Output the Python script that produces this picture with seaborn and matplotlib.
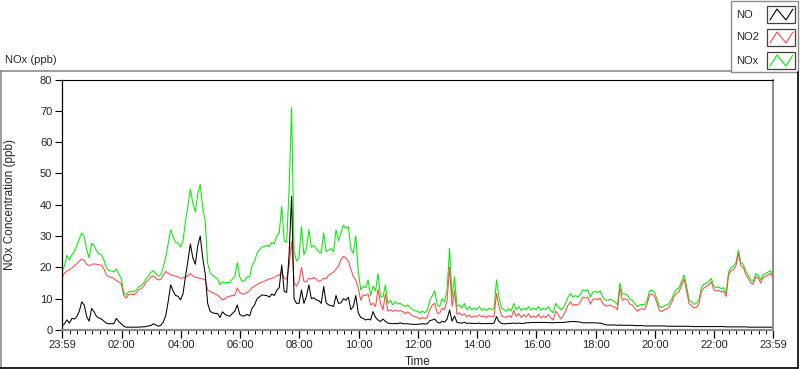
import numpy as np
import pandas as pd
import matplotlib
matplotlib.use("Agg")
import matplotlib.pyplot as plt
import seaborn as sns
from matplotlib.patches import Rectangle

# one reading every 5 minutes, counted from 23:59
minutes = list(range(0, 1441, 5))

# NOx (ppb), one row per hour of the day
nox = (
    [18.7, 20.5, 23.8, 22.4, 24, 25, 27, 29, 31, 29.9, 25.6, 23] +
    [27.7, 27, 25.3, 24.3, 24, 22.3, 19.8, 19, 18.8, 18.5, 19.5, 18] +
    [16.5, 12, 11.1, 12.2, 12.4, 12.2, 12.7, 13.7, 14.2, 14.9, 16.3, 17.3] +
    [18.4, 19, 18, 17.2, 17.5, 20, 23, 27.5, 32, 29.9, 28, 27.8] +
    [26.5, 28.5, 34.5, 39.5, 45, 40.5, 37.8, 43.5, 46.5, 39, 35, 21.3] +
    [18.3, 17.5, 16.8, 16.5, 14.5, 15.4, 15, 15.2, 15.2, 16.3, 17, 21.5] +
    [17, 15.5, 15.8, 17, 17, 20.5, 22, 24.5, 25.6, 26.5, 26.7, 27] +
    [26.7, 28, 27.5, 30, 31, 39.5, 28.5, 28, 45, 71, 25, 22] +
    [23, 33, 24, 26, 32, 26.5, 27, 26, 25, 24.5, 31, 25] +
    [25.5, 26, 25, 32, 28.5, 31, 33.5, 32.5, 33, 26, 24.5, 30] +
    [19, 12.8, 14, 13.5, 16, 11, 14, 12.5, 18, 10.7, 10.5, 14.4] +
    [8.5, 9.5, 8, 9, 8.3, 8.5, 8, 7.5, 8, 7.2, 6.5, 6.2] +
    [6, 5.5, 6, 5.5, 6.3, 9.5, 11, 12.5, 8, 7.5, 10, 9] +
    [13, 26, 10.5, 17, 7.5, 8, 7, 8.5, 6.5, 7.5, 6.4, 7] +
    [6.5, 7.5, 6.3, 6.8, 6.2, 7, 6.5, 6.8, 16, 10.5, 7, 6.5] +
    [6, 6.8, 6.2, 8.5, 6.4, 7.5, 6.2, 7, 6.5, 7.5, 6.4, 7] +
    [6.5, 7.5, 6.3, 7, 6.5, 7.5, 6.2, 5.5, 8.5, 7.5, 6.5, 7] +
    [8.5, 10.5, 11.7, 10.5, 11, 10.5, 11.5, 12.8, 12.5, 12.8, 10.5, 12] +
    [12.3, 12, 12.5, 10.5, 9.6, 9.5, 9.8, 9.5, 9, 8, 15, 11.5] +
    [11.5, 11.2, 9.8, 9.5, 8.5, 7.5, 8, 8.2, 8, 9.5, 12.5, 12.8] +
    [12, 10, 7.5, 7.2, 7.8, 8, 8.5, 10, 12, 13, 13.5, 15.5] +
    [17.5, 14, 9.6, 9, 8.2, 8.5, 9.5, 13.5, 14.5, 15, 15.5, 16.5] +
    [14, 13.5, 13.8, 13.2, 13.5, 11.7, 18.5, 20, 20.3, 21.5, 25.5, 21.5] +
    [21, 18.7, 17.5, 16, 15.5, 18, 17.5, 16, 17.6, 18, 18.5, 19] +
    [17.5]
)

# NO2 (ppb)
no2 = (
    [16.5, 18.2, 18.8, 19.3, 19.8, 20.5, 21.2, 22, 22.7, 22.2, 21, 20.5] +
    [21, 21.1, 21, 20.8, 20.7, 19.5, 17.5, 17, 16.8, 16.5, 15.8, 15.3] +
    [14.9, 11, 10.2, 11.3, 11.5, 11.3, 11.8, 12.8, 13.2, 13.9, 15.2, 16] +
    [17, 17.3, 16.5, 16, 16.2, 17.3, 18.7, 18.2, 17.6, 17.4, 17.2, 17] +
    [16.5, 16.7, 17, 17.3, 18, 17.3, 16.8, 16.7, 16.5, 16.3, 16, 12.8] +
    [12.3, 12, 11.5, 11.2, 10.5, 9.6, 10, 10.6, 10.8, 11, 11, 13.5] +
    [12, 11.5, 11.5, 12, 12.5, 13.5, 14, 14.5, 15, 15.3, 15.6, 16] +
    [16.3, 16.5, 16.8, 17.3, 17.5, 18.5, 16.5, 16.2, 20.5, 28.3, 15, 14] +
    [15.5, 20, 15.5, 15.3, 16.5, 16.3, 16.8, 16.2, 15.5, 15.8, 16.5, 16.3] +
    [17.5, 18, 18.5, 19.5, 20.3, 22.5, 23.5, 23, 22, 19.5, 17, 16] +
    [13.5, 9.5, 11.2, 11, 11.5, 8, 8.5, 7.5, 13, 8.5, 6.4, 11.5] +
    [6, 6.5, 5.9, 6.4, 6, 6.2, 5.9, 5.2, 5.8, 5.3, 4.5, 4.3] +
    [4, 3.5, 4, 3.6, 4.2, 6.5, 8, 8.5, 5.3, 5.5, 7, 6.5] +
    [9.5, 20, 7.5, 12.5, 5, 5.5, 4.7, 5.2, 4.3, 4.8, 4, 4.5] +
    [4.3, 4.8, 4.2, 4.5, 4, 4.6, 4.3, 4.3, 11.7, 7.5, 4.7, 4.2] +
    [4, 4.6, 4, 6.3, 4.3, 5.3, 4, 4.9, 4.2, 5.2, 4, 4.5] +
    [4, 5, 3.8, 4.5, 4, 5, 3.9, 3.2, 6, 5, 3.5, 4.5] +
    [6, 8, 9, 7.8, 8.2, 8, 9, 10.5, 10.2, 10.5, 8.2, 9.7] +
    [10, 9.7, 10.2, 8.5, 7.8, 7.7, 8, 7.5, 7.3, 6.5, 13.3, 9.5] +
    [10, 9.7, 8.3, 8, 7, 6, 6.6, 6.8, 6.6, 8.2, 11.2, 11.5] +
    [10.7, 8.7, 6.2, 5.9, 6.5, 6.7, 7.3, 8.8, 10.8, 11.8, 12.3, 14.3] +
    [16.3, 12.5, 8.4, 7.8, 7, 7.3, 8.3, 12.3, 13.4, 13.9, 14.4, 15.4] +
    [12.9, 12.4, 12.7, 12.1, 12.4, 10.7, 17.5, 19, 19.3, 20.5, 24.4, 20.5] +
    [20, 17.7, 16.5, 15, 14.6, 17, 16.6, 15, 16.7, 17.1, 17.6, 18.1] +
    [16.6]
)

# NO (ppb)
no = (
    [1.3, 2, 3.2, 2.2, 3.7, 3.5, 4.3, 6, 9, 8, 4.3, 2.8] +
    [6.9, 5.8, 4.3, 3.8, 3.5, 2.8, 2.2, 2, 2, 2, 3.7, 2.7] +
    [2, 1.2, 0.9, 0.9, 0.9, 0.9, 0.9, 0.9, 1.0, 1.0, 1.1, 1.3] +
    [1.4, 2, 1.6, 1.2, 1.5, 2.5, 4.5, 9, 14.4, 12.5, 11, 10.8] +
    [9.6, 11.5, 17, 22, 27.5, 23, 21, 27, 30, 23, 18, 8.5] +
    [6, 5.5, 5.3, 5.3, 4, 5.8, 5, 4.6, 4.4, 5.3, 6, 8] +
    [5, 4.5, 4.5, 5, 4.5, 7, 8, 10, 10.6, 11.2, 11.1, 11] +
    [10.5, 11.5, 11, 12.7, 13.5, 20.8, 12.3, 12, 24.5, 42.7, 10, 8.5] +
    [8.5, 12.8, 8.5, 10.7, 14.4, 10, 10.3, 9.6, 9.4, 8.5, 13.9, 8.7] +
    [8, 7.8, 7.5, 11, 8.5, 8.7, 10, 9.5, 10.5, 6.5, 7.5, 11] +
    [5.5, 4, 3.7, 3.2, 3.5, 3.2, 5.9, 4, 3.2, 2.7, 3.5, 2.8] +
    [2.2, 2.1, 2, 2.1, 2, 2.3, 2, 2, 2, 1.9, 1.8, 1.8] +
    [1.8, 1.9, 2, 1.9, 2, 3, 3.2, 3.5, 2.5, 2.2, 2.8, 2.5] +
    [3.5, 6.4, 2.8, 4.5, 2.4, 2.3, 2.2, 2.5, 2.1, 2.2, 2.1, 2.1] +
    [2.1, 2.2, 2, 2.1, 2, 2.1, 2, 2.2, 4.3, 2.7, 2.1, 2] +
    [2, 2.1, 2.1, 2.2, 2.1, 2.2, 2.1, 2.1, 2.3, 2.3, 2.4, 2.4] +
    [2.4, 2.4, 2.4, 2.4, 2.4, 2.4, 2.3, 2.3, 2.4, 2.4, 2.4, 2.4] +
    [2.5, 2.6, 2.7, 2.7, 2.7, 2.6, 2.5, 2.3, 2.3, 2.3, 2.3, 2.3] +
    [2.3, 2.2, 2.2, 2, 1.7, 1.6, 1.6, 1.6, 1.6, 1.5, 1.6, 1.5] +
    [1.5, 1.5, 1.5, 1.5, 1.4, 1.4, 1.4, 1.4, 1.3, 1.3, 1.3, 1.3] +
    [1.3, 1.3, 1.3, 1.3, 1.3, 1.2, 1.2, 1.2, 1.2, 1.2, 1.2, 1.2] +
    [1.2, 1.2, 1.2, 1.1, 1.1, 1.1, 1.1, 1.1, 1.1, 1.1, 1.1, 1.1] +
    [1.1, 1.1, 1.1, 1.1, 1.1, 1.0, 1.0, 1.0, 1.0, 1.0, 1.0, 1.0] +
    [1.0, 1.0, 0.9, 0.9, 0.9, 0.9, 0.9, 0.9, 0.9, 0.9, 0.9, 0.9] +
    [0.9]
)

series_names = ["NO", "NO2", "NOx"]
series_colors = {"NO": "#000000", "NO2": "#ff4848", "NOx": "#00ee00"}

tick_labels = ["23:59", "02:00", "04:00", "06:00", "08:00", "10:00", "12:00",
               "14:00", "16:00", "18:00", "20:00", "22:00", "23:59"]

assert len(nox) == len(no2) == len(no) == len(minutes)

df = pd.DataFrame({
    "minute": minutes * 3,
    "ppb": nox + no2 + no,
    "series": ["NOx"] * len(nox) + ["NO2"] * len(no2) + ["NO"] * len(no),
})

sns.set_style("white")
plt.rcParams["font.family"] = ["Liberation Sans", "DejaVu Sans"]

W, H = 800, 369
fig = plt.figure(figsize=(W / 100, H / 100), dpi=100)
fig.patch.set_facecolor("white")

# main plot, placed in pixels
x0, x1, y0, y1 = 62, 773, 79.5, 330
ax = fig.add_axes([x0 / W, 1 - y1 / H, (x1 - x0) / W, (y1 - y0) / H])
sns.lineplot(data=df, x="minute", y="ppb", hue="series",
             hue_order=["NOx", "NO2", "NO"], palette=series_colors,
             estimator=None, linewidth=0.75, legend=False, ax=ax)

ax.set_xlim(0, 1440)
ax.set_ylim(0, 80)
ax.set_yticks(np.arange(0, 81, 10))

# major ticks at the labelled clock times, minor every 15 min
major = [0] + [int(s[:2]) * 60 + 1 for s in tick_labels[1:-1]] + [1440]
ax.set_xticks(major)
ax.set_xticklabels(tick_labels)
ax.set_xticks(np.arange(1, 1441, 15), minor=True)

ax.tick_params(axis="y", direction="out", length=5, width=0.8, color="black",
               labelsize=8, pad=2, left=True)
ax.tick_params(axis="x", which="major", direction="out", length=5.5, width=0.9,
               color="black", labelsize=8, pad=2, bottom=True)
ax.tick_params(axis="x", which="minor", direction="out", length=3, width=0.7,
               color="black", bottom=True)

for side, col, lw in [("top", "black", 0.8), ("left", "black", 0.9),
                      ("right", "#8c8c8c", 1.4), ("bottom", "#8c8c8c", 1.6)]:
    ax.spines[side].set_visible(True)
    ax.spines[side].set_color(col)
    ax.spines[side].set_linewidth(lw)

ax.set_xlabel("Time", fontsize=8.5)
ax.set_ylabel("NOx Concentration (ppb)", fontsize=8.5)
ax.xaxis.set_label_coords(0.5, -0.104)
ax.yaxis.set_label_coords(-0.064, 0.5)

# overlay in pixel coordinates for the panel frame, caption and legend
ov = fig.add_axes([0, 0, 1, 1], facecolor="none")
ov.set_xlim(0, W)
ov.set_ylim(H, 0)
ov.axis("off")

ov.plot([0, 731], [70.5, 70.5], color="#8c8c8c", lw=1.2)
ov.plot([0.6, 0.6], [70.5, 368], color="#8c8c8c", lw=1.2)
ov.plot([0, 798], [367.8, 367.8], color="black", lw=1.2)
ov.plot([797.8, 797.8], [72, 368], color="black", lw=1.2)

ov.text(5, 60, "NOx (ppb)", fontsize=8, ha="left", va="center")

ov.add_patch(Rectangle((731, 0.5), 66.5, 71.5, facecolor="white",
                       edgecolor="#8c8c8c", lw=1.0))
for i, name in enumerate(series_names):
    cy = 14.5 + i * 23
    ov.text(736, cy, name, fontsize=8, ha="left", va="center")
    bx, by, bw, bh = 767, cy - 8.5, 28, 17
    ov.add_patch(Rectangle((bx, by), bw, bh, facecolor="white",
                           edgecolor="#404040", lw=0.9))
    # small zigzag glyph: up, down, up
    ov.plot([bx + 3, bx + 10, bx + 19, bx + 26],
            [by + bh - 3, by + 3, by + bh - 3, by + 3],
            color=series_colors[name], lw=0.8)

fig.savefig("out.png", dpi=100, facecolor="white")
